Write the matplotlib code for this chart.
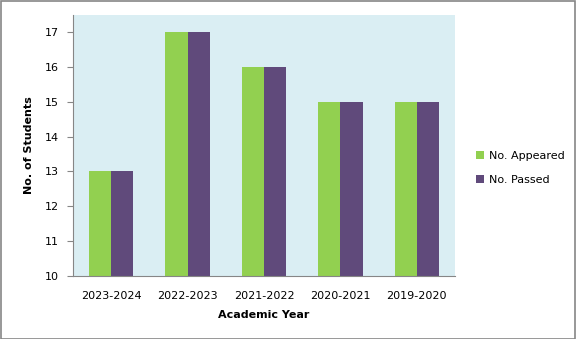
import numpy as np
import matplotlib.pyplot as plt
from matplotlib.patches import Rectangle

years = ['2023-2024', '2022-2023', '2021-2022', '2020-2021', '2019-2020']
appeared = [13, 17, 16, 15, 15]
passed = [13, 17, 16, 15, 15]

green = '#92D050'
purple = '#604A7B'

fig = plt.figure(figsize=(5.76, 3.39), dpi=100)
ax = fig.add_axes([73 / 576, 1 - 276 / 339, (455 - 73) / 576, (276 - 15) / 339])
ax.set_facecolor('#DAEEF3')

x = np.arange(len(years))
w = 0.29
ax.bar(x - w / 2, appeared, w, bottom=0, color=green, label='No. Appeared', zorder=2)
ax.bar(x + w / 2, passed, w, bottom=0, color=purple, label='No. Passed', zorder=2)

ax.set_xlim(-0.5, len(years) - 0.5)
ax.set_ylim(10, 17.49)
ax.set_yticks(range(10, 18))
ax.set_xticks(x)
ax.set_xticklabels(years)
ax.tick_params(axis='x', length=0, labelsize=8, pad=11)
ax.tick_params(axis='y', length=4, labelsize=8, color='#868686', pad=6)
for s in ['top', 'right']:
    ax.spines[s].set_visible(False)
for s in ['left', 'bottom']:
    ax.spines[s].set_color('#868686')

ax.set_xlabel('Academic Year', fontsize=8, fontweight='bold', labelpad=6)
ax.set_ylabel('No. of Students', fontsize=8, fontweight='bold', labelpad=8)

ax.legend(loc='center left', bbox_to_anchor=(1.03, 0.414), frameon=False, fontsize=8,
          handlelength=0.7, handleheight=0.7, handletextpad=0.4, labelspacing=1.3)

fig.patches.append(Rectangle((0.5 / 576, 0.5 / 339), 1 - 1.5 / 576, 1 - 1.5 / 339,
                             transform=fig.transFigure, fill=False, edgecolor='#868686', lw=1.2))

fig.savefig('out.png', dpi=100)
